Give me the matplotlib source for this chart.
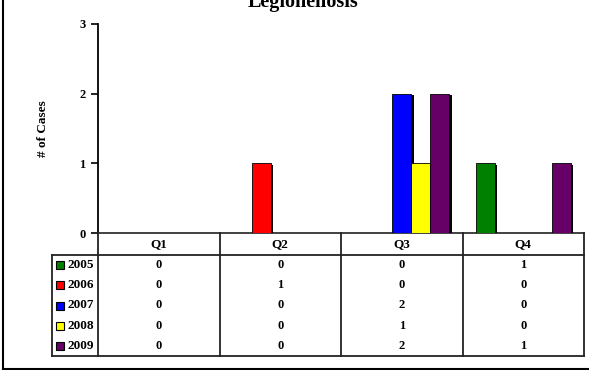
import matplotlib
matplotlib.use("Agg")
import matplotlib.pyplot as plt
import matplotlib.patheffects as pe
from matplotlib.lines import Line2D
from matplotlib.patches import Rectangle

plt.rcParams["font.family"] = "Liberation Serif"
plt.rcParams["font.weight"] = "bold"

# Data
quarters = ["Q1", "Q2", "Q3", "Q4"]
years = ["2005", "2006", "2007", "2008", "2009"]
cases_2005 = [0, 0, 0, 1]
cases_2006 = [0, 1, 0, 0]
cases_2007 = [0, 0, 2, 0]
cases_2008 = [0, 0, 1, 0]
cases_2009 = [0, 0, 2, 1]
series = [cases_2005, cases_2006, cases_2007, cases_2008, cases_2009]
colors = ["#008000", "#FF0000", "#0000FF", "#FFFF00", "#660066"]

W, H = 589, 370
fig = plt.figure(figsize=(W / 100, H / 100), dpi=100)


def fx(px):
    return px / W


def fy(py):
    return 1 - py / H


# -----------------------------------------
# Bar chart area
# -----------------------------------------
ax = fig.add_axes([fx(98), fy(233), fx(584) - fx(98), fy(24) - fy(233)])
bar_w = 0.156
n = len(series)
for i, (vals, c) in enumerate(zip(series, colors)):
    xs = [q + 0.5 + (i - (n - 1) / 2) * bar_w for q in range(len(quarters))]
    ax.bar(xs, vals, width=bar_w, color=c, edgecolor="black", linewidth=0.6,
           zorder=3,
           path_effects=[pe.SimplePatchShadow(offset=(1.8, -1.2),
                                              shadow_rgbFace="black", alpha=1),
                         pe.Normal()])

ax.set_xlim(0, 4)
ax.set_ylim(0, 3)
ax.set_yticks([0, 1, 2, 3])
ax.set_xticks([])
ax.tick_params(axis="y", direction="out", length=5, width=1.2, labelsize=9,
               pad=4)
for s in ["top", "right"]:
    ax.spines[s].set_visible(False)
ax.spines["left"].set_linewidth(1.3)
ax.spines["bottom"].set_linewidth(1.3)
ax.spines["bottom"].set_color("#333333")
ax.set_ylabel("# of Cases", fontsize=9.5, fontweight="bold", labelpad=22)

# Title (partly cut off at top)
fig.text(fx(303), fy(7), "Legionellosis", ha="center", va="baseline",
         fontsize=14.5, fontweight="bold")

# -----------------------------------------
# Data table below the chart
# -----------------------------------------
tab_left = 52
legend_w = (98 - 52) / ((584 - 98) / 4)
tax = fig.add_axes([fx(tab_left), fy(356), fx(584) - fx(tab_left), fy(233) - fy(356)])
tax.set_xlim(-legend_w, 4)
tax.set_ylim(123, 0)
tax.axis("off")

hdr = 22
row_h = (123 - hdr) / len(years)
lw = 1.3
lc = "#222222"
# vertical lines
for q in range(len(quarters) + 1):
    tax.plot([q, q], [0, 123], color=lc, lw=lw, clip_on=False)
tax.plot([-legend_w, -legend_w], [hdr, 123], color=lc, lw=lw, clip_on=False)
# horizontal lines
tax.plot([-legend_w, 4], [hdr, hdr], color=lc, lw=lw, clip_on=False)
tax.plot([-legend_w, 4], [123, 123], color=lc, lw=lw, clip_on=False)

for q, name in enumerate(quarters):
    tax.text(q + 0.5, hdr / 2, name, ha="center", va="center", fontsize=9.5,
             fontweight="bold")

for r, (yr, vals, c) in enumerate(zip(years, series, colors)):
    yc = hdr + (r + 0.5) * row_h
    tax.add_patch(Rectangle((-legend_w + 0.033, yc - 4), 0.066, 8,
                            facecolor=c, edgecolor="black", lw=0.8,
                            clip_on=False))
    tax.text(-legend_w + 0.13, yc, yr, ha="left", va="center", fontsize=9.5,
             fontweight="bold")
    for q, v in enumerate(vals):
        tax.text(q + 0.5, yc, str(v), ha="center", va="center", fontsize=9,
                 fontweight="bold")

# Outer frame (left and bottom visible)
fig.add_artist(Line2D([fx(2.5), fx(2.5)], [fy(369), 1], color="black", lw=1.5))
fig.add_artist(Line2D([fx(2.5), 1], [fy(369), fy(369)], color="black", lw=1.5))

fig.savefig("out.png", dpi=100)
